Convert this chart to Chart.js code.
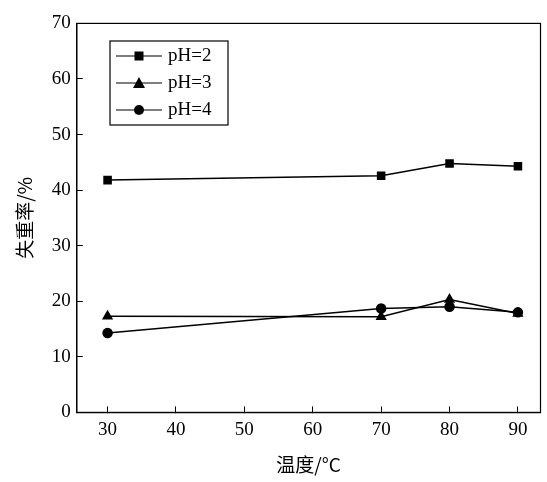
<!DOCTYPE html>
<html><head><meta charset="utf-8">
<script src="https://cdn.jsdelivr.net/npm/chart.js@4/dist/chart.umd.min.js"></script>
<style>body{margin:0;background:#fff}#wrap{width:547px;height:482px}</style>
</head><body><div id="wrap"><canvas id="c"></canvas></div>
<script>
const temps = [30, 70, 80, 90];
const ph2 = [41.8, 42.6, 44.8, 44.3];
const ph3 = [17.3, 17.2, 20.3, 17.8];
const ph4 = [14.3, 18.7, 19.0, 18.0];
const xTicks = [30, 40, 50, 60, 70, 80, 90];
const labels = ['pH=2', 'pH=3', 'pH=4'];
const shapes = ['rect', 'triangle', 'circle'];

const font = { family: 'Liberation Serif, Times New Roman, serif', size: 19 };

function series(i, vals) {
    return {
        label: labels[i],
        data: temps.map((t, k) => ({ x: t, y: vals[k] })),
        borderColor: '#000', backgroundColor: '#000', borderWidth: 1.5,
        pointStyle: shapes[i], pointRadius: i === 2 ? 4.5 : 5, tension: 0
    };
}

const legendBox = {
    id: 'legendBox',
    afterDraw(chart) {
        const ctx = chart.ctx;
        const a = chart.chartArea;
        ctx.save();
        ctx.strokeStyle = '#000'; ctx.lineWidth = 1.2;
        ctx.strokeRect(a.left, a.top, a.right - a.left, a.bottom - a.top);
        const x0 = 110, y0 = 41, w = 118, h = 84;
        ctx.strokeRect(x0, y0, w, h);
        ctx.font = '19px Liberation Serif';
        ctx.fillStyle = '#000';
        ctx.textBaseline = 'middle';
        for (let i = 0; i < 3; i++) {
            const y = y0 + 15 + i * 27;
            ctx.beginPath(); ctx.moveTo(x0 + 6, y); ctx.lineTo(x0 + 52, y); ctx.stroke();
            ctx.beginPath();
            const cx = x0 + 29;
            if (i === 0) ctx.rect(cx - 4.5, y - 4.5, 9, 9);
            else if (i === 1) { ctx.moveTo(cx, y - 6); ctx.lineTo(cx + 6, y + 5); ctx.lineTo(cx - 6, y + 5); ctx.closePath(); }
            else ctx.arc(cx, y, 5, 0, Math.PI * 2);
            ctx.fill();
            ctx.fillText(labels[i], x0 + 58, y);
        }
        ctx.restore();
    }
};

new Chart(document.getElementById('c'), {
    type: 'line',
    data: { datasets: [series(0, ph2), series(1, ph3), series(2, ph4)] },
    plugins: [legendBox],
    options: {
        responsive: true, maintainAspectRatio: false, animation: false,
        layout: { padding: { top: 23, right: 2, left: 9, bottom: 6 } },
        plugins: { legend: { display: false }, tooltip: { enabled: false } },
        scales: {
            x: {
                type: 'linear', min: 25.5, max: 93.3,
                afterBuildTicks: s => { s.ticks = xTicks.map(v => ({ value: v })); },
                grid: { drawOnChartArea: false, tickLength: -6, color: '#000' },
                border: { color: '#000', width: 1.2 },
                ticks: { color: '#000', font: font, padding: 12 },
                title: { display: true, text: '温度/°C', color: '#000', padding: { top: 0, bottom: 0 }, font: { family: 'Noto Sans CJK SC, Liberation Serif', size: 19 } }
            },
            y: {
                min: 0, max: 70,
                grid: { drawOnChartArea: false, tickLength: -6, color: '#000' },
                border: { color: '#000', width: 1.2 },
                ticks: { color: '#000', font: font, stepSize: 10, padding: 12 },
                title: { display: true, text: '失重率/%', color: '#000', font: { family: 'Noto Sans CJK SC, Liberation Serif', size: 19 } }
            }
        }
    }
});
</script></body></html>
